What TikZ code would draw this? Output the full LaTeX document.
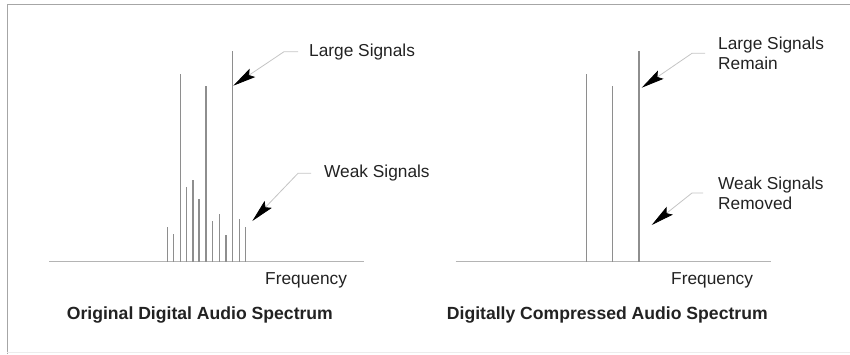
\documentclass[tikz,border=0pt]{standalone}
\usepackage{fontspec}
\setmainfont{Liberation Sans}
\usetikzlibrary{arrows.meta}

\definecolor{bargray}{HTML}{8E8E8E}
\definecolor{axisgray}{HTML}{B4B4B4}
\definecolor{leadgray}{HTML}{C4C4C4}
\definecolor{inkdark}{HTML}{222222}

\tikzset{
  bar/.style={draw=bargray,line width=1.5pt},
  axisline/.style={draw=axisgray,line width=1.2pt},
  leader/.style={draw=leadgray,line width=0.8pt,
    -{Stealth[black,length=23pt,width=10pt,inset=4pt]}},
  lbl/.style={inner sep=0pt,anchor=west,align=left,text=inkdark,
    font=\fontsize{17.3}{20}\selectfont},
  ttl/.style={inner sep=0pt,anchor=west,text=inkdark,
    font=\fontsize{17.6}{20}\selectfont\bfseries}
}

\begin{document}
\begin{tikzpicture}[x=1pt,y=-1pt]
  \useasboundingbox (0,0) rectangle (850,354);
  % frame
  \draw[gray!70,line width=1.2pt] (7.3,354) -- (7.3,4.5) -- (850,4.5);
  \draw[gray!15,line width=1pt] (7.3,352.7) -- (850,352.7);

  % original spectrum
  \draw[axisline] (49.3,261.5) -- (364.3,261.5);
  \foreach \x/\h in {167.3/226.7,173.3/234,180.3/74.3,186.3/186.7,193/179.7,
      199/199,206/86,212.7/221.3,219.3/214.3,226/235,232.7/50.7,239.3/219,245.7/226.7}
    \draw[bar] (\x,261.5) -- (\x,\h);

  % compressed spectrum
  \draw[axisline] (455.7,261.5) -- (770.7,261.5);
  \foreach \x/\h in {586.7/74.3,612.7/86,639/50.7}
    \draw[bar] (\x,261.5) -- (\x,\h);

  % labels
  \node[lbl] (largeL) at (309,51.7) {Large Signals};
  \node[lbl] (weakL) at (324,173.3) {Weak Signals};
  \node[lbl] (largeR) at (718,53.3) {Large Signals\\Remain};
  \node[lbl] (weakR) at (718,193) {Weak Signals\\Removed};
  \node[lbl] (freqL) at (265,280) {Frequency};
  \node[lbl] (freqR) at (671,280) {Frequency};
  \node[ttl] (titleL) at (66.7,315) {Original Digital Audio Spectrum};
  \node[ttl] (titleR) at (446.7,315) {Digitally Compressed Audio Spectrum};

  % pointers
  \coordinate (tipLL) at (233.3,85.7);
  \coordinate (tipWL) at (252.3,221);
  \coordinate (tipLR) at (641.7,87.7);
  \coordinate (tipWR) at (651.7,225);
  \draw[leader] ([xshift=-11pt]largeL.west) -- ++(-14,0) -- (tipLL);
  \draw[leader] ([xshift=-13pt]weakL.west) -- ++(-13,0) -- (tipWL);
  \draw[leader] ([xshift=-13pt]largeR.west) -- ++(-13,0) -- (tipLR);
  \draw[leader] ([xshift=-15pt]weakR.west) -- ++(-11,0) -- (tipWR);
\end{tikzpicture}
\end{document}
